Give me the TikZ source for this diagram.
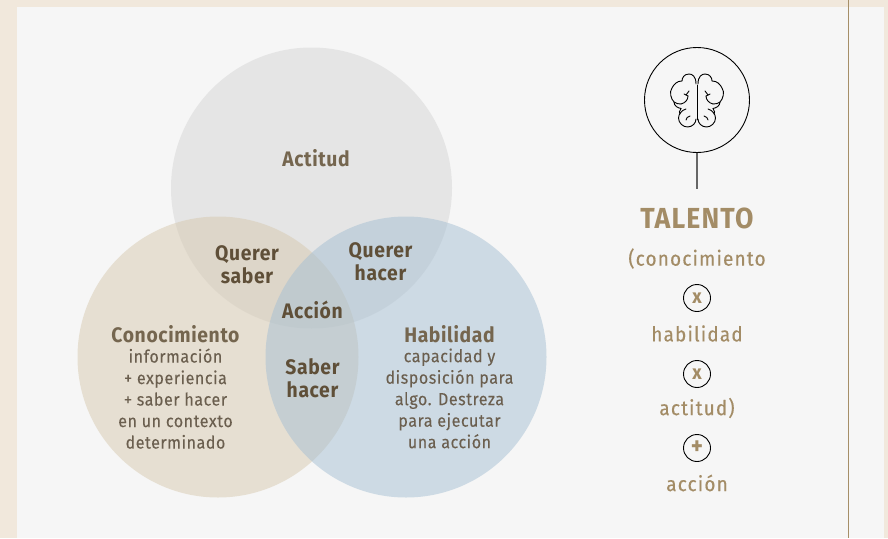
\documentclass[tikz,border=0pt]{standalone}
\usepackage{fontspec}
\setmainfont[FakeStretch=0.92,LetterSpace=3]{Fira Sans}
\newfontfamily\medfont[FakeStretch=0.92,LetterSpace=3,FakeBold=0.1]{Fira Sans}
\newfontfamily\talfont[FakeStretch=0.92,LetterSpace=6,FakeBold=0.45]{Fira Sans}
\definecolor{pageBg}{HTML}{F1E8DC}
\definecolor{panelBg}{HTML}{F6F6F6}
\definecolor{rule}{HTML}{A68F68}
\definecolor{gold}{HTML}{A38C66}
\definecolor{dark}{HTML}{5F4F38}
\definecolor{headc}{HTML}{75664F}
\definecolor{bodyc}{HTML}{6B5F4F}
\definecolor{topc}{HTML}{D5D5D5}
\definecolor{leftc}{HTML}{D7C9AF}
\definecolor{rightc}{HTML}{A5BFD3}
\tikzset{
 x=1pt,y=-1pt,
 venn/.style={circle,minimum size=281pt,inner sep=0pt,fill opacity=.5,text opacity=1},
 head/.style={font=\fontsize{21}{24}\selectfont\bfseries,text=headc,align=center},
 lab/.style={font=\fontsize{21}{23}\selectfont\bfseries,text=dark,align=center},
 body/.style={font=\medfont\fontsize{17.5}{21.5}\selectfont,text=bodyc,align=center},
 tal/.style={font=\talfont\fontsize{20.5}{24}\selectfont,text=gold},
 opc/.style={circle,draw=black,line width=.9pt,minimum size=27pt,inner sep=0pt,text=gold,font=\fontsize{20}{20}\selectfont\bfseries},
 brainln/.style={line width=.9pt,draw=black,line cap=round}
}
\begin{document}
\begin{tikzpicture}
\useasboundingbox (0,0) rectangle (888,538);
\fill[pageBg] (0,0) rectangle (888,538);
\fill[panelBg] (17,7) rectangle (884,538);
\draw[rule,line width=1.2pt] (848.5,0) -- (848.5,538);
\node[venn,fill=topc] (top) at (311.5,188) {};
\node[venn,fill=leftc] (left) at (218,357) {};
\node[venn,fill=rightc] (right) at (406,357) {};
\node[head] (actitud) at (316,158.5) {Actitud};
\node[lab] (qs) at (247,264.5) {Querer\\saber};
\node[lab] (qh) at (380.5,261.5) {Querer\\hacer};
\node[lab] (accion) at (312.5,310) {Acción};
\node[lab] (sh) at (312.5,378.5) {Saber\\hacer};
\node[head] (con) at (175.5,334.5) {Conocimiento};
\node[body,anchor=north] (conb) at (175.5,345) {información\\+ experiencia\\+ saber hacer\\en un contexto\\determinado};
\node[head] (hab) at (449.5,334.5) {Habilidad};
\node[body,anchor=north] (habb) at (449.5,345) {capacidad y\\disposición para\\algo. Destreza\\para ejecutar\\una acción};
% brain emblem
\node[circle,draw=black,line width=.9pt,minimum size=105pt,inner sep=0pt] (emblem) at (697,100) {};
\coordinate (stem) at (697,189);
\draw[black!60,line width=1.3pt] (emblem.south) -- (stem);
\draw[brainln] (697,85) -- (697,120);
\foreach \s in {1,-1}{
 \begin{scope}[shift={(697,0)},xscale=\s]
  \draw[brainln] (1,84) .. controls (1,76) and (5,74) .. (8,74)
    .. controls (13,74) and (15,78) .. (15,81)
    .. controls (20,81) and (23,84) .. (25,88)
    .. controls (28,92) and (26,99) .. (23,102)
    .. controls (23,106) and (19,108) .. (16,108.5)
    .. controls (18,111) and (18,113) .. (17,114);
  \draw[brainln] (11,109) .. controls (15,110) and (18.5,114) .. (18.5,118)
    .. controls (18.5,123) and (14,127) .. (9.5,127)
    .. controls (4.5,127) and (1,123) .. (1,119);
  \draw[brainln] (16,104) .. controls (12,103) and (9,100) .. (9,96);
  \draw[brainln] (9,96) -- (13,94);
  \draw[brainln] (8,91) -- (11,95);
  \draw[brainln] (7,116) .. controls (9,116.5) and (11,118) .. (11,120);
  \draw[brainln] (23,102) .. controls (21,103.5) and (19,104) .. (16,104);
 \end{scope}}
\node[font=\fontsize{29}{32}\selectfont\bfseries\addfontfeature{LetterSpace=4},text=gold] (talento) at (697,218.5) {TALENTO};
\node[tal] (t1) at (697,258.5) {(conocimiento};
\node[opc] (o1) at (697,298) {x};
\node[tal] (t2) at (697,333.5) {habilidad};
\node[opc] (o2) at (697,374) {x};
\node[tal] (t3) at (697,408) {actitud)};
\node[opc] (o3) at (697,448) {\fontsize{25}{25}\selectfont +};
\node[tal] (t4) at (697,483) {acción};
\end{tikzpicture}
\end{document}
